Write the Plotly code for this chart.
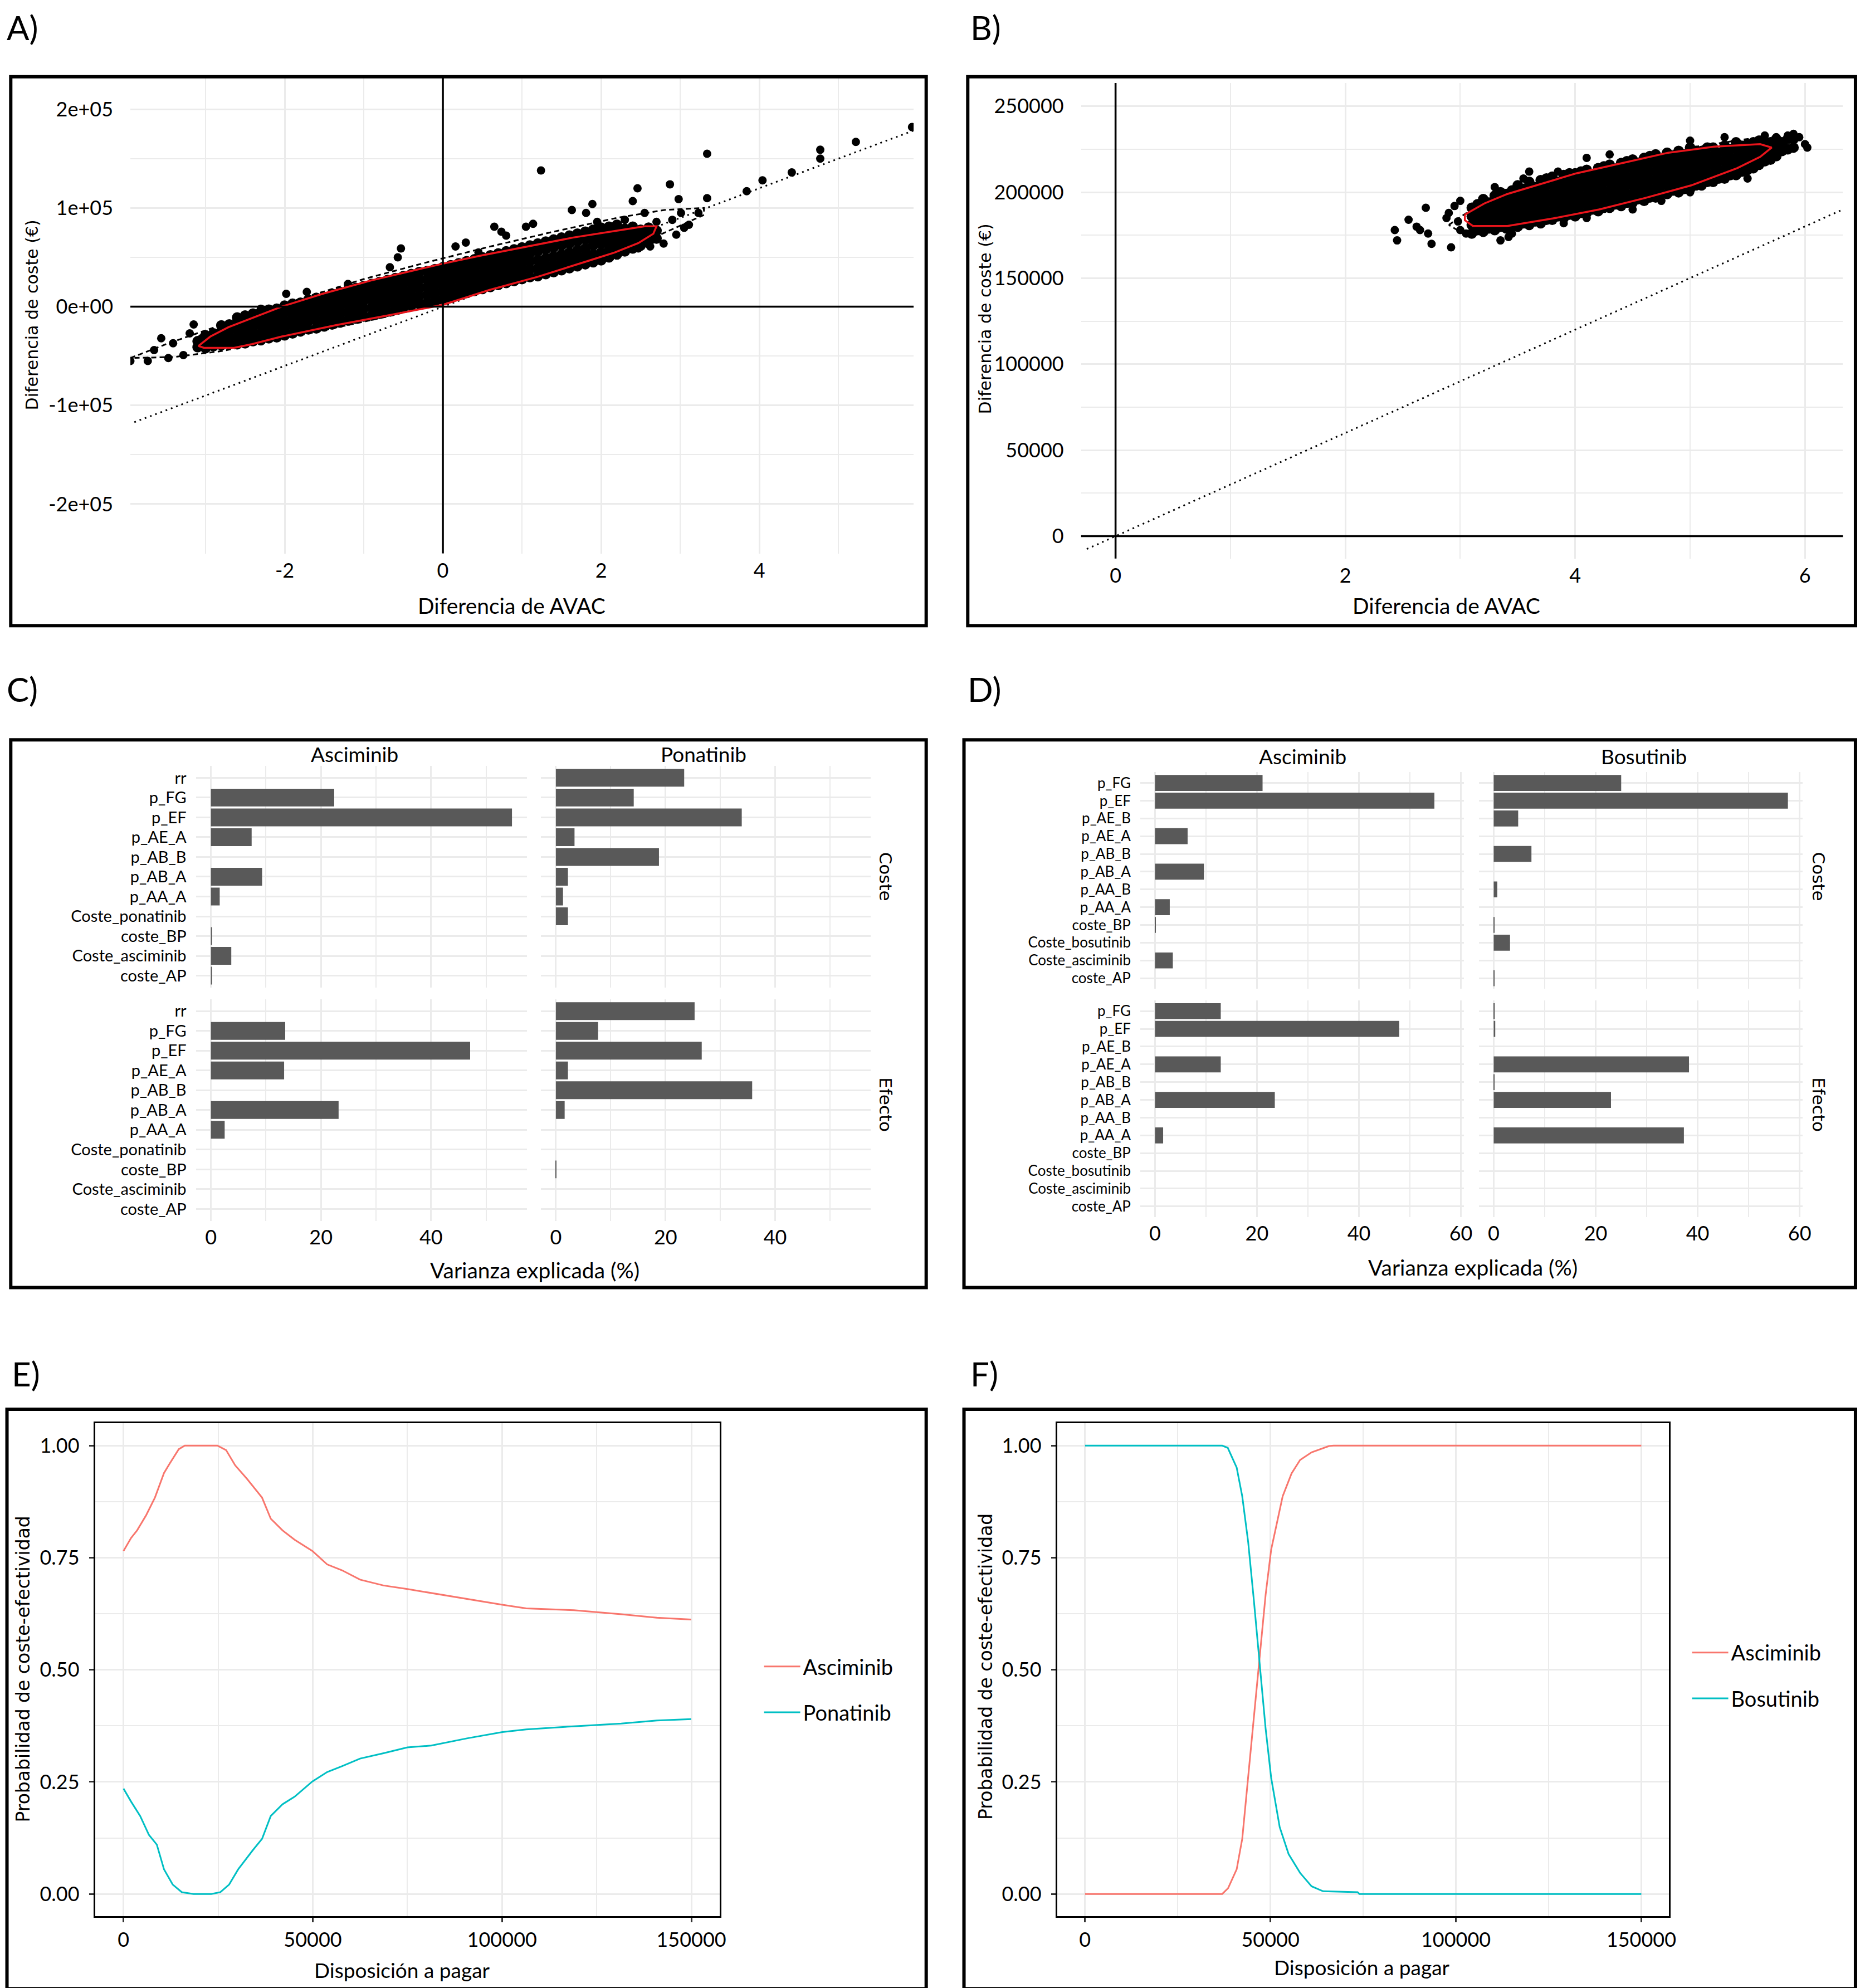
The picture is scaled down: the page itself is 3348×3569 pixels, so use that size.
import plotly.graph_objects as go

# positions below are measured on the reference reduced to 1474 x 1568
W, H = 3348, 3569
REF_W, REF_H = 1474.0, 1568.0

ROJO = '#F8766D'
TURQ = '#00BFC4'
BARRA = '#595959'
REJILLA = '#EBEBEB'
FUENTE = 'Lato'
FUENTE_EJE = 'DejaVu Sans'

# ---------------------------------------------------------------- datos
# A) Asciminib vs Ponatinib, nube del PSA (coste en miles de euros)
a_nube = [
    (-3.10, [-41, -35]),
    (-3.00, [-42, -36, -29]),
    (-2.90, [-40, -34, -27]),
    (-2.80, [-39, -32, -25, -19]),
    (-2.70, [-38, -31, -24, -18]),
    (-2.60, [-38, -31, -24, -17, -11]),
    (-2.50, [-37, -30, -22, -16, -9]),
    (-2.40, [-35, -28, -21, -14, -7]),
    (-2.30, [-34, -27, -19, -12, -5]),
    (-2.20, [-32, -25, -18, -11, -3]),
    (-2.10, [-31, -23, -16, -9, -2]),
    (-2.00, [-29, -21, -14, -6, 1]),
    (-1.90, [-27, -19, -12, -4, 3]),
    (-1.80, [-25, -17, -10, -3, 4]),
    (-1.70, [-23, -15, -8, -1, 7]),
    (-1.60, [-22, -14, -6, 1, 9]),
    (-1.50, [-20, -12, -4, 3, 10]),
    (-1.40, [-18, -10, -2, 6, 13]),
    (-1.30, [-16, -8, 0, 8, 15]),
    (-1.20, [-14, -6, 2, 9, 17]),
    (-1.10, [-12, -4, 4, 12, 19]),
    (-1.00, [-10, -2, 6, 13, 21]),
    (-0.90, [-9, -1, 7, 15, 23]),
    (-0.80, [-7, 1, 9, 17, 25]),
    (-0.70, [-5, 3, 11, 19, 27]),
    (-0.60, [-3, 5, 13, 21, 29]),
    (-0.50, [-1, 7, 15, 23, 31]),
    (-0.40, [1, 9, 17, 25, 33]),
    (-0.30, [3, 11, 19, 27, 35]),
    (-0.20, [4, 12, 20, 28, 36]),
    (-0.10, [6, 14, 22, 30, 38]),
    (0.00, [8, 16, 24, 32, 40]),
    (0.10, [10, 18, 26, 34, 42]),
    (0.20, [12, 20, 28, 36, 44]),
    (0.30, [14, 22, 30, 38, 46]),
    (0.40, [16, 24, 32, 40, 48]),
    (0.50, [18, 26, 34, 42, 50]),
    (0.60, [20, 28, 36, 44, 52]),
    (0.70, [22, 30, 38, 46, 54]),
    (0.80, [24, 32, 40, 48, 56]),
    (0.90, [26, 34, 42, 50, 58]),
    (1.00, [28, 36, 44, 52, 60]),
    (1.10, [30, 38, 46, 54, 62]),
    (1.20, [31, 39, 47, 56, 64]),
    (1.30, [33, 41, 49, 58, 66]),
    (1.40, [35, 43, 51, 60, 68]),
    (1.50, [37, 45, 53, 62, 70]),
    (1.60, [39, 47, 55, 64, 72]),
    (1.70, [41, 49, 57, 66, 74]),
    (1.80, [43, 51, 59, 68, 76]),
    (1.90, [45, 53, 62, 70, 78]),
    (2.00, [47, 55, 64, 72, 80]),
    (2.10, [50, 58, 66, 74, 81]),
    (2.20, [53, 61, 69, 77, 83]),
    (2.30, [56, 64, 72, 79]),
    (2.40, [59, 67, 75, 81]),
    (2.50, [62, 70, 78]),
    (2.60, [65, 73, 80]),
    (2.70, [69, 77]),
]
a_sueltos = [(1.24, 138), (3.34, 155), (4.77, 159), (4.77, 150), (5.22, 167),
             (5.93, 182), (4.41, 136), (4.04, 128), (3.84, 117), (3.34, 110),
             (2.87, 124), (2.46, 120), (2.40, 107), (2.55, 95), (1.89, 104),
             (1.63, 98), (1.81, 95), (2.98, 109), (3.01, 95), (3.23, 95),
             (3.11, 83), (2.79, 64), (2.62, 61), (2.47, 59), (-0.53, 59),
             (-0.57, 50), (-0.67, 40), (0.65, 81), (1.05, 81), (1.14, 84),
             (0.80, 72), (0.74, 76), (-3.95, -55), (-3.73, -55), (-3.65, -44),
             (-3.56, -32), (-3.41, -37), (-3.47, -52), (-3.28, -49), (-3.15, -18),
             (-3.05, -32), (-1.98, 13), (-1.72, 15), (0.16, 61), (0.29, 65),
             (2.90, 88), (3.05, 80), (2.95, 73), (2.70, 86), (2.30, 88),
             (1.95, 86), (-2.30, -2), (-1.20, 23), (0.45, 55), (-3.20, -27)]
a_elipse_roja = [(-3.09, -39.8), (-2.94, -30.3), (-2.71, -20.8), (-2.41, -11.4),
                 (-2.04, 0.0), (-1.51, 13.3), (-0.91, 26.5), (-0.31, 37.9),
                 (0.00, 43.6), (0.44, 51.1), (1.05, 60.6), (1.65, 70.1),
                 (2.25, 77.7), (2.55, 81.4), (2.70, 81.4), (2.66, 73.9),
                 (2.47, 64.4), (2.17, 54.9), (1.80, 45.5), (1.20, 30.3),
                 (0.59, 17.0), (0.00, 1.9), (-0.61, -7.6), (-1.36, -18.9),
                 (-2.04, -30.3), (-2.41, -37.9), (-2.64, -41.7), (-3.02, -41.7),
                 (-3.09, -39.8)]
a_elipse_95 = [(-3.95, -52), (-3.50, -38), (-3.00, -24), (-2.40, -7), (-1.80, 8),
               (-1.00, 28), (-0.20, 45), (0.60, 61), (1.40, 76), (2.20, 90),
               (2.80, 98), (3.30, 100), (3.30, 93), (3.00, 82), (2.50, 64),
               (1.90, 48), (1.20, 31), (0.50, 15), (0.00, 4), (-0.70, -10),
               (-1.40, -22), (-2.10, -34), (-2.80, -45), (-3.40, -51), (-3.95, -52)]
a_umbral_x = [-3.90, 5.95]
a_umbral_y = [-117, 178.5]

# B) Asciminib vs Bosutinib (coste en miles de euros)
b_nube = [
    (3.10, [176, 181, 186, 191]),
    (3.15, [178, 183, 188, 193]),
    (3.20, [177, 182, 187, 192, 196]),
    (3.25, [179, 184, 189, 194]),
    (3.30, [178, 183, 188, 193, 198]),
    (3.35, [180, 185, 190, 195, 200]),
    (3.40, [179, 184, 189, 194, 199]),
    (3.45, [181, 186, 191, 196, 201]),
    (3.50, [180, 185, 190, 195, 200, 204]),
    (3.55, [182, 187, 192, 197, 202]),
    (3.60, [181, 186, 191, 196, 201, 206]),
    (3.65, [183, 188, 193, 198, 203]),
    (3.70, [182, 187, 192, 197, 202, 207]),
    (3.75, [184, 189, 194, 199, 204, 208]),
    (3.80, [184, 189, 194, 199, 204, 209]),
    (3.85, [186, 191, 196, 201, 206]),
    (3.90, [185, 190, 195, 200, 205, 210]),
    (3.95, [187, 192, 197, 202, 207, 211]),
    (4.00, [186, 191, 196, 201, 206, 211]),
    (4.05, [188, 193, 198, 203, 208, 212]),
    (4.10, [188, 193, 198, 203, 208, 213]),
    (4.15, [190, 195, 200, 205, 210]),
    (4.20, [189, 194, 199, 204, 209, 214]),
    (4.25, [191, 196, 201, 206, 211, 215]),
    (4.30, [191, 196, 201, 206, 211, 216]),
    (4.35, [193, 198, 203, 208, 213]),
    (4.40, [192, 197, 202, 207, 212, 217]),
    (4.45, [194, 199, 204, 209, 214, 218]),
    (4.50, [194, 199, 204, 209, 214, 219]),
    (4.55, [196, 201, 206, 211, 216]),
    (4.60, [195, 200, 205, 210, 215, 220]),
    (4.65, [197, 202, 207, 212, 217, 221]),
    (4.70, [197, 202, 207, 212, 217, 222]),
    (4.75, [199, 204, 209, 214, 219]),
    (4.80, [199, 204, 209, 214, 219, 223]),
    (4.85, [201, 206, 211, 216, 221]),
    (4.90, [200, 205, 210, 215, 220, 224]),
    (4.95, [202, 207, 212, 217, 222]),
    (5.00, [202, 207, 212, 217, 222, 226]),
    (5.05, [204, 209, 214, 219, 224]),
    (5.10, [204, 209, 214, 219, 224]),
    (5.15, [206, 211, 216, 221, 226]),
    (5.20, [206, 211, 216, 221, 226]),
    (5.25, [208, 213, 218, 223]),
    (5.30, [208, 213, 218, 223, 227]),
    (5.35, [210, 215, 220, 225]),
    (5.40, [210, 215, 220, 225, 229]),
    (5.45, [212, 217, 222, 227]),
    (5.50, [213, 218, 223, 228]),
    (5.55, [214, 219, 224, 229]),
    (5.60, [216, 221, 226, 230]),
    (5.65, [218, 223, 228]),
    (5.70, [219, 224, 229]),
    (5.75, [221, 226, 231]),
    (5.80, [224, 229]),
    (5.85, [225, 231]),
    (5.90, [226, 231]),
]
b_sueltos = [(2.43, 178), (2.45, 172), (2.55, 184), (2.62, 180), (2.65, 178),
             (2.70, 191), (2.72, 176), (2.75, 170), (2.92, 168), (2.88, 185),
             (2.90, 188), (2.95, 192), (3.00, 195), (3.00, 178), (3.05, 176),
             (2.98, 183), (3.35, 172), (3.42, 174), (3.45, 176), (3.30, 203),
             (3.55, 208), (3.60, 212), (3.85, 212), (4.10, 220), (4.30, 222),
             (3.90, 182), (4.10, 185), (4.50, 190), (4.75, 195), (5.00, 200),
             (5.50, 208), (5.55, 214), (5.60, 220), (5.90, 234), (5.95, 232),
             (6.00, 228), (6.02, 226), (5.85, 233), (5.75, 232), (5.65, 233),
             (5.30, 232), (5.00, 230), (5.55, 226)]
b_elipse_roja = [(3.04, 187.0), (3.21, 193.5), (3.41, 199.0), (3.61, 203.0),
                 (4.01, 211.0), (4.41, 217.0), (4.81, 223.0), (5.21, 226.5),
                 (5.61, 228.0), (5.71, 226.0), (5.61, 220.6), (5.41, 214.0),
                 (5.01, 204.0), (4.61, 196.7), (4.21, 190.0), (3.81, 184.8),
                 (3.41, 180.4), (3.11, 180.4), (3.04, 183.7), (3.04, 187.0)]
b_elipse_95 = [(2.90, 181), (3.10, 190), (3.50, 200), (4.00, 210), (4.50, 219),
               (5.00, 226), (5.50, 231), (5.85, 230), (5.90, 226), (5.70, 220),
               (5.30, 212), (4.80, 202), (4.30, 193), (3.80, 185), (3.30, 178),
               (3.00, 177), (2.90, 181)]
b_umbral_x = [-0.25, 6.33]
b_umbral_y = [-7.5, 190]

# C) tornado, % de varianza explicada (Asciminib / Ponatinib)
c_param = ['rr', 'p_FG', 'p_EF', 'p_AE_A', 'p_AB_B', 'p_AB_A', 'p_AA_A',
           'Coste_ponatinib', 'coste_BP', 'Coste_asciminib', 'coste_AP']
c_asc_coste = [0, 22.4, 54.7, 7.4, 0, 9.3, 1.6, 0, 0.1, 3.7, 0.1]
c_pon_coste = [23.4, 14.2, 33.9, 3.4, 18.8, 2.2, 1.3, 2.2, 0, 0, 0]
c_asc_efecto = [0, 13.5, 47.1, 13.3, 0, 23.2, 2.5, 0, 0, 0, 0]
c_pon_efecto = [25.3, 7.7, 26.6, 2.2, 35.8, 1.6, 0, 0, 0.1, 0, 0]

# D) tornado, % de varianza explicada (Asciminib / Bosutinib)
d_param = ['p_FG', 'p_EF', 'p_AE_B', 'p_AE_A', 'p_AB_B', 'p_AB_A', 'p_AA_B',
           'p_AA_A', 'coste_BP', 'Coste_bosutinib', 'Coste_asciminib', 'coste_AP']
d_asc_coste = [21.1, 54.8, 0, 6.4, 0, 9.6, 0, 2.9, 0.1, 0, 3.5, 0]
d_bos_coste = [25.0, 57.7, 4.8, 0, 7.4, 0, 0.7, 0, 0.1, 3.2, 0, 0.1]
d_asc_efecto = [12.9, 47.9, 0, 12.9, 0, 23.5, 0, 1.6, 0, 0, 0, 0]
d_bos_efecto = [0.2, 0.3, 0, 38.3, 0.1, 23.0, 0, 37.3, 0, 0, 0, 0]

# E) curva de aceptabilidad Asciminib vs Ponatinib
e_dap_asc = [0, 2000, 3600, 6000, 8300, 10700, 12200, 14600, 16200, 24800, 27100,
             29500, 32600, 34200, 36600, 38900, 42000, 45200, 49900, 53800, 57700,
             62500, 68700, 75000, 81300, 90700, 100100, 106400, 119000, 131500,
             140900, 150000]
e_prob_asc = [0.765, 0.794, 0.811, 0.845, 0.884, 0.939, 0.960, 0.992, 1.0, 1.0, 0.99,
              0.956, 0.926, 0.909, 0.884, 0.837, 0.811, 0.790, 0.765, 0.735, 0.722,
              0.701, 0.688, 0.680, 0.671, 0.658, 0.645, 0.637, 0.633, 0.624,
              0.616, 0.612]
e_dap_pon = [0, 2000, 4400, 6700, 8800, 10700, 13000, 15400, 18500, 23200, 25600,
             27900, 30300, 32600, 34200, 36600, 38900, 42000, 45200, 49900, 53800,
             57700, 62500, 68700, 75000, 81300, 90700, 100100, 106400, 119000,
             131500, 140900, 150000]
e_prob_pon = [0.235, 0.206, 0.174, 0.132, 0.110, 0.055, 0.021, 0.004, 0.0, 0.0, 0.004,
              0.021, 0.055, 0.081, 0.098, 0.123, 0.174, 0.200, 0.217, 0.251, 0.272,
              0.285, 0.302, 0.314, 0.327, 0.331, 0.347, 0.361, 0.367, 0.374,
              0.380, 0.387, 0.390]

# F) curva de aceptabilidad Asciminib vs Bosutinib
f_dap_bos = [0, 37000, 38500, 39300, 40900, 42400, 44000, 45500, 47100, 48700,
             50200, 52500, 54900, 58000, 61100, 64200, 73500, 74000, 150000]
f_prob_bos = [1.0, 1.0, 0.995, 0.980, 0.951, 0.887, 0.785, 0.658, 0.514, 0.369,
              0.259, 0.149, 0.089, 0.047, 0.017, 0.006, 0.004, 0.0, 0.0]
f_dap_asc = [0, 37000, 38600, 40900, 42400, 44000, 45500, 47100, 48700, 50200,
             51800, 53300, 55700, 58000, 61100, 65800, 67000, 150000]
f_prob_asc = [0.0, 0.0, 0.013, 0.055, 0.123, 0.259, 0.386, 0.531, 0.667, 0.768,
              0.828, 0.887, 0.938, 0.968, 0.985, 0.999, 1.0, 1.0]

# etiquetas de ejes
a_ticks_x = [-2, 0, 2, 4]
a_ticktext_x = ['-2', '0', '2', '4']
a_ticks_y = [-200000, -100000, 0, 100000, 200000]
a_ticktext_y = ['-2e+05', '-1e+05', '0e+00', '1e+05', '2e+05']
b_ticks_x = [0, 2, 4, 6]
b_ticks_y = [0, 50000, 100000, 150000, 200000, 250000]
b_ticktext_y = ['0', '50000', '100000', '150000', '200000', '250000']
dap_ticks = [0, 50000, 100000, 150000]
dap_ticktext = ['0', '50000', '100000', '150000']
prob_ticks = [0, 0.25, 0.5, 0.75, 1.0]
prob_ticktext = ['0.00', '0.25', '0.50', '0.75', '1.00']


# ---------------------------------------------------------------- helpers
def px(x):
    return x / REF_W


def py(y):
    return 1 - y / REF_H


def dom_x(l, r):
    return [px(l), px(r)]


def dom_y(t, b):
    return [py(b), py(t)]


def aplanar(nube):
    xs, ys = [], []
    for x, col in nube:
        for y in col:
            xs.append(x)
            ys.append(y * 1000)
    return xs, ys


def separar(puntos):
    return [p[0] for p in puntos], [p[1] * 1000 for p in puntos]


tick_font = dict(family=FUENTE, size=36, color='black')


def eje(dominio, rango, **kw):
    d = dict(domain=dominio, range=rango, showgrid=True, gridcolor=REJILLA,
             gridwidth=2.5, zeroline=False, showline=False, ticks='',
             tickfont=tick_font, fixedrange=True)
    d.update(kw)
    return d


def menor(vals, w=2):
    return dict(tickmode='array', tickvals=vals, showgrid=True,
                gridcolor=REJILLA, gridwidth=w, ticks='')


fig = go.Figure()


def nube_psa(nube, sueltos, umbral_x, umbral_y, roja, elipse95, xa, ya):
    fig.add_trace(go.Scatter(x=umbral_x, y=[v * 1000 for v in umbral_y], mode='lines',
                             line=dict(color='black', width=3, dash='3px,7px'),
                             xaxis=xa, yaxis=ya, showlegend=False))
    cx, cy = aplanar(nube)
    fig.add_trace(go.Scatter(x=cx, y=cy, mode='markers',
                             marker=dict(color='black', size=19),
                             xaxis=xa, yaxis=ya, showlegend=False))
    sx, sy = separar(sueltos)
    fig.add_trace(go.Scatter(x=sx, y=sy, mode='markers',
                             marker=dict(color='black', size=15),
                             xaxis=xa, yaxis=ya, showlegend=False))
    ex, ey = separar(elipse95)
    fig.add_trace(go.Scatter(x=ex, y=ey, mode='lines',
                             line=dict(color='black', width=3, dash='9px,6px'),
                             xaxis=xa, yaxis=ya, showlegend=False))
    ex, ey = separar(roja)
    fig.add_trace(go.Scatter(x=ex, y=ey, mode='lines', line=dict(color='#E8141B', width=3.5),
                             xaxis=xa, yaxis=ya, showlegend=False))


# A y B
nube_psa(a_nube, a_sueltos, a_umbral_x, a_umbral_y, a_elipse_roja, a_elipse_95, 'x', 'y')
nube_psa(b_nube, b_sueltos, b_umbral_x, b_umbral_y, b_elipse_roja, b_elipse_95, 'x2', 'y2')

# C y D
barras = [
    (c_asc_coste, c_param, '3'), (c_pon_coste, c_param, '4'),
    (c_asc_efecto, c_param, '5'), (c_pon_efecto, c_param, '6'),
    (d_asc_coste, d_param, '7'), (d_bos_coste, d_param, '8'),
    (d_asc_efecto, d_param, '9'), (d_bos_efecto, d_param, '10'),
]
for vals, params, n in barras:
    fig.add_trace(go.Bar(x=vals, y=params, orientation='h', width=0.9,
                         marker=dict(color=BARRA, line=dict(width=0)),
                         xaxis='x' + n, yaxis='y' + n, showlegend=False))

# E y F
fig.add_trace(go.Scatter(x=e_dap_asc, y=e_prob_asc, mode='lines', name='Asciminib',
                         line=dict(color=ROJO, width=3), xaxis='x11', yaxis='y11',
                         legend='legend', legendgroup='e1'))
fig.add_trace(go.Scatter(x=e_dap_pon, y=e_prob_pon, mode='lines', name='Ponatinib',
                         line=dict(color=TURQ, width=3), xaxis='x11', yaxis='y11',
                         legend='legend', legendgroup='e2'))
fig.add_trace(go.Scatter(x=f_dap_asc, y=f_prob_asc, mode='lines', name='Asciminib',
                         line=dict(color=ROJO, width=3), xaxis='x12', yaxis='y12',
                         legend='legend2', legendgroup='f1'))
fig.add_trace(go.Scatter(x=f_dap_bos, y=f_prob_bos, mode='lines', name='Bosutinib',
                         line=dict(color=TURQ, width=3), xaxis='x12', yaxis='y12',
                         legend='legend2', legendgroup='f2'))

# ---------------------------------------------------------------- ejes
lay = {}
lay['xaxis'] = eje(dom_x(100, 722), [-3.95, 5.95], anchor='y', tickmode='array',
                   tickvals=a_ticks_x, ticktext=a_ticktext_x,
                   minor=menor([-3, -1, 1, 3, 5]), ticklabelstandoff=6)
lay['yaxis'] = eje(dom_y(57, 433), [-250000, 233000], anchor='x', tickmode='array',
                   tickvals=a_ticks_y, ticktext=a_ticktext_y,
                   minor=menor([-250000, -150000, -50000, 50000, 150000]),
                   ticklabelstandoff=30)
lay['xaxis2'] = eje(dom_x(855, 1460), [-0.3, 6.33], anchor='y2', tickmode='array',
                    tickvals=b_ticks_x, minor=menor([1, 3, 5]), ticklabelstandoff=6)
lay['yaxis2'] = eje(dom_y(62, 437), [-13000, 263500], anchor='x2', tickmode='array',
                    tickvals=b_ticks_y, ticktext=b_ticktext_y,
                    minor=menor([25000, 75000, 125000, 175000, 225000]),
                    ticklabelstandoff=30)

cat_font = dict(family=FUENTE, size=29, color='black')
paneles_c = {'3': ((152, 415), (600.6, 775.4)), '4': ((426, 688), (600.6, 775.4)),
             '5': ((152, 415), (784.6, 959.4)), '6': ((426, 688), (784.6, 959.4))}
for n, (xd, yd) in paneles_c.items():
    lay['xaxis' + n] = eje(dom_x(*xd), [-2.735, 57.435], anchor='y' + n, tickmode='array',
                           tickvals=[0, 20, 40], minor=menor([10, 30, 50]),
                           showticklabels=n in ('5', '6'), ticklabelstandoff=5)
    lay['yaxis' + n] = eje(dom_y(*yd), [len(c_param) - 0.4, -0.6], anchor='x' + n,
                           type='category', categoryorder='array', categoryarray=c_param,
                           tickmode='array', tickvals=c_param, ticktext=c_param,
                           showticklabels=n in ('3', '5'), tickfont=cat_font,
                           ticklabelstandoff=16)

cat_font_d = dict(family=FUENTE, size=26, color='black')
paneles_d = {'7': ((902, 1159), (605.6, 776.4)), '8': ((1171, 1428), (605.6, 776.4)),
             '9': ((902, 1159), (785.6, 956.4)), '10': ((1171, 1428), (785.6, 956.4))}
for n, (xd, yd) in paneles_d.items():
    lay['xaxis' + n] = eje(dom_x(*xd), [-2.885, 60.585], anchor='y' + n, tickmode='array',
                           tickvals=[0, 20, 40, 60], minor=menor([10, 30, 50]),
                           showticklabels=n in ('9', '10'), ticklabelstandoff=5)
    lay['yaxis' + n] = eje(dom_y(*yd), [len(d_param) - 0.4, -0.6], anchor='x' + n,
                           type='category', categoryorder='array', categoryarray=d_param,
                           tickmode='array', tickvals=d_param, ticktext=d_param,
                           showticklabels=n in ('7', '9'), tickfont=cat_font_d,
                           ticklabelstandoff=16)

for n, xd in (('11', (72, 568)), ('12', (836, 1322))):
    comun = dict(showline=True, mirror=True, linecolor='black', linewidth=3,
                 ticks='outside', ticklen=8, tickwidth=3, tickcolor='#333333')
    lay['xaxis' + n] = eje(dom_x(*xd), [-7500, 157500], anchor='y' + n, tickmode='array',
                           tickvals=dap_ticks, ticktext=dap_ticktext,
                           minor=menor([25000, 75000, 125000]), ticklabelstandoff=0, **comun)
    lay['yaxis' + n] = eje(dom_y(1119, 1508), [-0.05, 1.05], anchor='x' + n,
                           tickmode='array', tickvals=prob_ticks, ticktext=prob_ticktext,
                           minor=menor([0.125, 0.375, 0.625, 0.875]),
                           ticklabelstandoff=10, **comun)

# ---------------------------------------------------------------- lineas de referencia y marcos
formas = []
for xr, yr in (('x', 'y'), ('x2', 'y2')):
    formas.append(dict(type='line', xref=xr, yref=yr + ' domain', x0=0, x1=0, y0=0, y1=1,
                       line=dict(color='black', width=3.5)))
    formas.append(dict(type='line', xref=xr + ' domain', yref=yr, x0=0, x1=1, y0=0, y1=0,
                       line=dict(color='black', width=3.5)))
marcos = [(5, 57, 732, 490), (765, 57, 1470, 490), (5, 580, 732, 1012),
          (762, 580, 1470, 1012), (2, 1108, 732, 1565), (762, 1108, 1470, 1565)]
for l, t, r, b in marcos:
    formas.append(dict(type='rect', xref='paper', yref='paper', x0=px(l), x1=px(r),
                       y0=py(b), y1=py(t), line=dict(color='black', width=6),
                       fillcolor='rgba(0,0,0,0)', layer='above'))


# ---------------------------------------------------------------- textos
def texto(t, x, y, size=38, fam=FUENTE, ang=0, xa='center'):
    return dict(text=t, x=px(x), y=py(y), xref='paper', yref='paper', showarrow=False,
                textangle=ang, xanchor=xa, yanchor='middle',
                font=dict(family=fam, size=size, color='black'))


notas = [
    texto('A)', 1, 18, 60, xa='left'), texto('B)', 766, 18, 60, xa='left'),
    texto('C)', 1, 540, 60, xa='left'), texto('D)', 764, 540, 60, xa='left'),
    texto('E)', 5, 1080, 60, xa='left'), texto('F)', 766, 1080, 60, xa='left'),
    texto('Diferencia de coste (€)', 22, 245, 30, FUENTE_EJE, -90),
    texto('Diferencia de AVAC', 403, 474, 39),
    texto('Diferencia de coste (€)', 779, 248, 30, FUENTE_EJE, -90),
    texto('Diferencia de AVAC', 1145, 474, 39),
    texto('Asciminib', 278, 591, 37), texto('Ponatinib', 555, 591, 37),
    texto('Coste', 700, 688, 31, FUENTE_EJE, 90), texto('Efecto', 700, 868, 31, FUENTE_EJE, 90),
    texto('Varianza explicada (%)', 421, 998, 39),
    texto('Asciminib', 1031, 593, 37), texto('Bosutinib', 1302, 593, 37),
    texto('Coste', 1441, 688, 31, FUENTE_EJE, 90), texto('Efecto', 1441, 868, 31, FUENTE_EJE, 90),
    texto('Varianza explicada (%)', 1166, 996, 39),
    texto('Probabilidad de coste-efectividad', 15, 1313, 33, FUENTE_EJE, -90),
    texto('Disposición a pagar', 316, 1550, 37),
    texto('Probabilidad de coste-efectividad', 779, 1311, 33, FUENTE_EJE, -90),
    texto('Disposición a pagar', 1078, 1548, 37),
]

leyenda = dict(font=dict(family=FUENTE, size=38, color='black'), tracegroupgap=30,
               bgcolor='rgba(0,0,0,0)', xanchor='left', yanchor='middle', itemwidth=65)

fig.update_layout(
    width=W, height=H,
    margin=dict(l=0, r=0, t=0, b=0),
    paper_bgcolor='white', plot_bgcolor='white',
    showlegend=True,
    legend=dict(x=px(601), y=py(1329), **leyenda),
    legend2=dict(x=px(1338), y=py(1318), **leyenda),
    shapes=formas,
    annotations=notas,
    bargap=0.1,
    **lay
)

fig.write_html("out.html")
